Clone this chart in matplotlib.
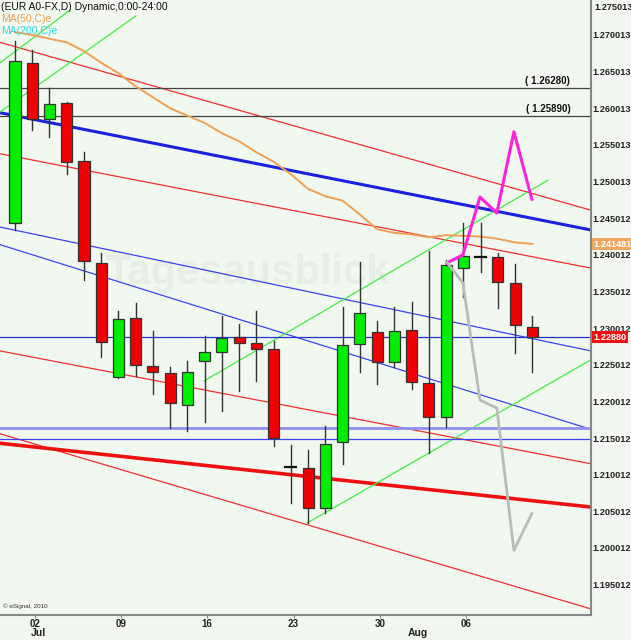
import matplotlib
matplotlib.use("Agg")
import matplotlib.pyplot as plt
from matplotlib.patches import Rectangle

plt.rcParams['font.family'] = ['Liberation Sans', 'DejaVu Sans']

# ---- data ----
opens  = [1.2444,1.2662,1.2585,1.2607,1.2528,1.2389,1.2233,1.2314,1.2248,1.2239,1.2195,1.2255,1.2268,1.2288,1.2280,1.2272,
          1.2111,1.2109,1.2055,1.2145,1.2278,1.2295,1.2254,1.2298,1.2225,1.2179,1.2382,1.2397,1.2397,1.2362,1.2302]
highs  = [1.2692,1.2680,1.2628,1.2608,1.2540,1.2403,1.2323,1.2334,1.2296,1.2247,1.2255,1.2289,1.2317,1.2306,1.2323,1.2283,
          1.2141,1.2134,1.2167,1.2329,1.2390,1.2310,1.2329,1.2336,1.2405,1.2393,1.2444,1.2444,1.2403,1.2388,1.2317]
lows   = [1.2434,1.2570,1.2561,1.2510,1.2366,1.2261,1.2232,1.2235,1.2210,1.2164,1.2160,1.2172,1.2187,1.2214,1.2228,1.2139,
          1.2062,1.2034,1.2048,1.2115,1.2240,1.2224,1.2247,1.2217,1.2130,1.2165,1.2343,1.2377,1.2328,1.2266,1.2240]
closes = [1.2665,1.2585,1.2606,1.2527,1.2392,1.2281,1.2313,1.2250,1.2240,1.2198,1.2240,1.2268,1.2287,1.2280,1.2272,1.2150,
          1.2111,1.2055,1.2142,1.2277,1.2321,1.2254,1.2296,1.2227,1.2179,1.2386,1.2399,1.2397,1.2363,1.2304,1.2288]
ma50   = [1.2704,1.2700,1.2695,1.2690,1.2678,1.2662,1.2648,1.2630,1.2615,1.2600,1.2590,1.2580,1.2566,1.2555,1.2540,1.2527,
          1.2510,1.2490,1.2480,1.2474,1.2455,1.2435,1.2430,1.2428,1.2424,1.2427,1.2426,1.2425,1.2422,1.2417,1.2415]
day_labels = ["02", "09", "16", "23", "30", "06"]
day_pos = [1, 6, 11, 16, 21, 26]
month_labels = ["Jul", "Aug"]
month_pos = [1, 23]
ytick_vals = [1.275013,1.270013,1.265013,1.260013,1.255013,1.250013,1.245012,1.240012,1.235012,1.230012,
              1.225012,1.220012,1.215012,1.210012,1.205012,1.200012,1.195012]
# drawn trend lines: (x0, p0, x1, p1)
red_thin = [(-0.87,1.2690,33.4,1.2461),(-0.87,1.2538,33.4,1.2382),(-0.87,1.2269,33.4,1.2115),(-0.87,1.2156,33.4,1.1917)]
red_thick = [(-0.87,1.2143,33.4,1.2056)]
blue_thick = [(-0.87,1.2594,33.4,1.2434)]
blue_thin = [(-0.87,1.2438,33.4,1.2269),(-0.87,1.2414,33.4,1.2162)]
green_lines = [(-0.87,1.2662,3.19,1.2734),(-0.87,1.2595,7.01,1.2726),(10.96,1.2228,30.9,1.2502),(16.93,1.2034,33.4,1.2257)]
levels_dark = [1.2628, 1.2589]
level_last = 1.2288
levels_blue = [1.2164, 1.2149]
magenta_x = [25.04,25.97,26.96,27.94,28.93,29.97]
magenta_y = [1.2389,1.2400,1.2479,1.2457,1.2568,1.2476]
gray_x = [25.04,25.97,26.96,27.94,28.93,29.97]
gray_y = [1.2390,1.2362,1.2202,1.2191,1.1997,1.2047]

bg = "#f1f8f0"
fig = plt.figure(figsize=(6.31, 6.40), dpi=100, facecolor=bg)
ax = fig.add_axes([0, 25/640, 591/631, 615/640], facecolor=bg)
ymin, ymax = 1.19087, 1.27478
xmin, xmax = -0.87, 33.4
ax.set_xlim(xmin, xmax)
ax.set_ylim(ymin, ymax)

for (x0, p0, x1, p1) in red_thin:
    ax.plot([x0, x1], [p0, p1], color="#f03030", lw=0.9, zorder=1)
for (x0, p0, x1, p1) in red_thick:
    ax.plot([x0, x1], [p0, p1], color="#ee1111", lw=2.6, zorder=1)
for (x0, p0, x1, p1) in blue_thick:
    ax.plot([x0, x1], [p0, p1], color="#1a22dd", lw=2.2, zorder=1)
for (x0, p0, x1, p1) in blue_thin:
    ax.plot([x0, x1], [p0, p1], color="#3a44ee", lw=0.9, zorder=1)
for (x0, p0, x1, p1) in green_lines:
    ax.plot([x0, x1], [p0, p1], color="#44ee44", lw=0.9, zorder=1)
for lv in levels_dark:
    ax.axhline(lv, color="#444444", lw=0.9, zorder=1)
ax.axhline(level_last, color="#2233cc", lw=0.9, zorder=1)
ax.axhline(levels_blue[0], color="#9090f0", lw=2.0, zorder=1)
ax.axhline(levels_blue[1], color="#3a44ee", lw=0.9, zorder=1)
ax.text(30.9, levels_dark[0] + 0.0003, "( 1.26280)", fontsize=7, fontweight="bold", ha="center", va="bottom", color="#111111")
ax.text(30.9, levels_dark[1] + 0.0003, "( 1.25890)", fontsize=7, fontweight="bold", ha="center", va="bottom", color="#111111")

ax.text(13.5, 1.2375, "Tagesausblick", fontsize=30, fontweight="bold", color="#e6eee6", ha="center", va="center", zorder=0.5)

ax.plot(range(len(ma50)), ma50, color="#f0a050", lw=1.4, zorder=2)

w = 0.64
for i, (o, h, l, c) in enumerate(zip(opens, highs, lows, closes)):
    ax.plot([i, i], [l, h], color="#333333", lw=1.0, zorder=3)
    if abs(c - o) < 0.00005:
        ax.plot([i - w/2, i + w/2], [o, o], color="#111111", lw=1.6, zorder=4)
        continue
    col = "#00ee00" if c > o else "#ee0000"
    ax.add_patch(Rectangle((i - w/2, min(o, c)), w, abs(c - o), facecolor=col,
                           edgecolor="#333333", lw=0.9, zorder=4))

ax.plot(magenta_x, magenta_y, color="#ff22dd", lw=2.2, zorder=5)
ax.plot(gray_x, gray_y, color="#bbbbbb", lw=2.0, zorder=5)

# axes styling
for s in ["top", "left"]:
    ax.spines[s].set_visible(False)
ax.spines["right"].set_color("#888888")
ax.spines["right"].set_linewidth(1.5)
ax.spines["bottom"].set_color("#888888")
ax.spines["bottom"].set_linewidth(1.5)
ax.yaxis.tick_right()
ax.set_yticks(ytick_vals[1:])
ax.set_yticklabels([f"{v:.6f}" for v in ytick_vals[1:]], fontsize=6.6, fontweight="bold", color="#222222")
ax.tick_params(axis="y", length=0, pad=1)
ax.text(1.006, 0.995, f"{ytick_vals[0]:.6f}", transform=ax.transAxes, fontsize=6.6, fontweight="bold",
        color="#222222", ha="left", va="top", clip_on=False)
ax.set_xticks([p + 0.15 for p in day_pos])
ax.set_xticklabels(day_labels, fontsize=7, fontweight="bold", color="#222222")
ax.tick_params(axis="x", length=2, color="#888888", pad=1)
for lab, p in zip(month_labels, month_pos):
    t = ax.text(p + 0.35, ymin - 0.0018, lab, fontsize=7.5, fontweight="bold", color="#222222",
                ha="center", va="top")
    t.set_clip_on(False)

# price boxes
ax.text(1.004, (1.241481 - ymin) / (ymax - ymin), "1.241481", transform=ax.transAxes, fontsize=6.6,
        fontweight="bold", color="white", va="center", ha="left",
        bbox=dict(boxstyle="square,pad=0.15", fc="#f0a860", ec="none"), clip_on=False, zorder=6)
ax.text(1.004, (1.2288 - ymin) / (ymax - ymin), "1.22880", transform=ax.transAxes, fontsize=6.6,
        fontweight="bold", color="white", va="center", ha="left",
        bbox=dict(boxstyle="square,pad=0.15", fc="#ee1111", ec="none"), clip_on=False, zorder=6)

fig.text(0.002, 0.997, "(EUR A0-FX,D) Dynamic,0:00-24:00", fontsize=7.5, color="#111111", va="top", ha="left")
fig.text(0.002, 0.978, "MA(50,C)e", fontsize=7.5, color="#f0a050", va="top", ha="left")
fig.text(0.002, 0.959, "MA(200,C)e", fontsize=7.5, color="#22dddd", va="top", ha="left")
fig.text(0.004, 0.048, "© eSignal, 2010", fontsize=4.5, color="#333333", va="bottom", ha="left")

fig.savefig("out.png", dpi=100, facecolor=bg)
